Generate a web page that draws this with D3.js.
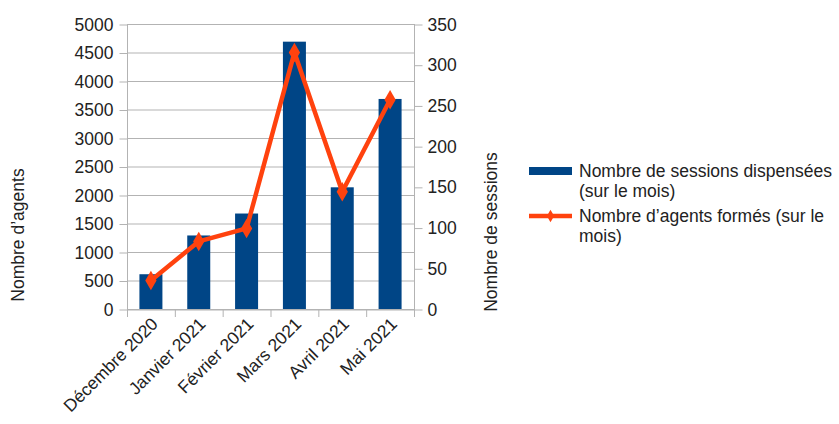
<!DOCTYPE html>
<html>
<head>
<meta charset="utf-8">
<script src="https://cdn.jsdelivr.net/npm/d3@7"></script>
<style>
  body { margin: 0; background: #fff; }
  svg { font-family: "Liberation Sans", Arial, sans-serif; }
</style>
</head>
<body>
<svg width="839" height="424"></svg>
<script>
"use strict";

// data
const months = ["Décembre 2020", "Janvier 2021", "Février 2021", "Mars 2021", "Avril 2021", "Mai 2021"];
const sessions = [610, 1290, 1675, 4690, 2135, 3685];   // bars, left axis
const agents = [35, 83, 99, 315, 144, 257];             // line, right axis
const leftTicks = [0, 500, 1000, 1500, 2000, 2500, 3000, 3500, 4000, 4500, 5000];
const rightTicks = [0, 50, 100, 150, 200, 250, 300, 350];

const svg = d3.select("svg");
const plot = { left: 127, right: 414, top: 24, bottom: 309 };
const blue = "#004586";
const orange = "#ff420e";
const grid = "#b3b3b3";
const textColor = "#222";
const fontSize = 17.5;

const xBand = d3.scaleBand().domain(months).range([plot.left, plot.right]);
const yLeft = d3.scaleLinear().domain([0, 5000]).range([plot.bottom, plot.top]);
const yRight = d3.scaleLinear().domain([0, 350]).range([plot.bottom, plot.top]);

// horizontal gridlines
svg.append("g")
  .selectAll("line")
  .data(leftTicks)
  .enter()
  .append("line")
  .attr("x1", plot.left)
  .attr("x2", plot.right)
  .attr("y1", d => yLeft(d) + 0.5)
  .attr("y2", d => yLeft(d) + 0.5)
  .attr("stroke", grid)
  .attr("stroke-width", 1);

// plot frame sides
svg.append("line").attr("x1", plot.left + 0.5).attr("x2", plot.left + 0.5)
  .attr("y1", plot.top).attr("y2", plot.bottom + 8).attr("stroke", grid);
svg.append("line").attr("x1", plot.right + 0.5).attr("x2", plot.right + 0.5)
  .attr("y1", plot.top).attr("y2", plot.bottom + 8).attr("stroke", grid);

// bars
svg.append("g")
  .selectAll("rect")
  .data(sessions)
  .enter()
  .append("rect")
  .attr("x", (d, i) => xBand(months[i]) + xBand.bandwidth() / 2 - 11.5)
  .attr("width", 23)
  .attr("y", d => yLeft(d))
  .attr("height", d => plot.bottom - yLeft(d))
  .attr("fill", blue);

// left axis
const leftAxis = d3.axisLeft(yLeft).tickValues(leftTicks).tickFormat(d3.format("d")).tickSize(8).tickPadding(6);
const gl = svg.append("g").attr("transform", `translate(${plot.left + 0.5},0.5)`).call(leftAxis);
gl.select(".domain").remove();
gl.selectAll("line").attr("stroke", grid);
gl.selectAll("text").attr("font-size", fontSize).attr("fill", textColor).attr("font-family", "Liberation Sans, Arial, sans-serif");

// right axis
const rightAxis = d3.axisRight(yRight).tickValues(rightTicks).tickFormat(d3.format("d")).tickSize(8).tickPadding(5);
const gr = svg.append("g").attr("transform", `translate(${plot.right + 0.5},0.5)`).call(rightAxis);
gr.select(".domain").remove();
gr.selectAll("line").attr("stroke", grid);
gr.selectAll("text").attr("font-size", fontSize).attr("fill", textColor).attr("font-family", "Liberation Sans, Arial, sans-serif");

// bottom axis line
const bottomAxis = d3.axisBottom(xBand).tickSize(0).tickFormat("");
const gb = svg.append("g").attr("transform", `translate(0,${plot.bottom + 0.5})`).call(bottomAxis);
gb.select(".domain").attr("stroke", grid);
gb.selectAll("line").remove();
// category separator ticks
svg.append("g")
  .selectAll("line")
  .data(months.slice(1))
  .enter()
  .append("line")
  .attr("x1", d => xBand(d) + 0.5)
  .attr("x2", d => xBand(d) + 0.5)
  .attr("y1", plot.bottom)
  .attr("y2", plot.bottom + 8)
  .attr("stroke", grid);

// rotated category labels
svg.append("g")
  .selectAll("text")
  .data(months)
  .enter()
  .append("text")
  .attr("transform", d => `translate(${xBand(d) + xBand.bandwidth() / 2 + 8},${plot.bottom + 16}) rotate(-45)`)
  .attr("text-anchor", "end")
  .attr("font-size", fontSize)
  .attr("fill", textColor)
  .text(d => d);

// line series
const line = d3.line()
  .x((d, i) => xBand(months[i]) + xBand.bandwidth() / 2)
  .y(d => yRight(d));
svg.append("path")
  .datum(agents)
  .attr("d", line)
  .attr("fill", "none")
  .attr("stroke", orange)
  .attr("stroke-width", 4.5)
  .attr("stroke-linejoin", "round");

const diamond = d3.symbol().type(d3.symbolDiamond).size(110);
svg.append("g")
  .selectAll("path")
  .data(agents)
  .enter()
  .append("path")
  .attr("d", diamond)
  .attr("transform", (d, i) => `translate(${xBand(months[i]) + xBand.bandwidth() / 2},${yRight(d)})`)
  .attr("fill", orange);

// axis titles
svg.append("text")
  .attr("transform", "translate(24,235) rotate(-90)")
  .attr("text-anchor", "middle")
  .attr("font-size", fontSize)
  .attr("fill", textColor)
  .text("Nombre d’agents");
svg.append("text")
  .attr("transform", "translate(497,232) rotate(-90)")
  .attr("text-anchor", "middle")
  .attr("font-size", fontSize)
  .attr("fill", textColor)
  .text("Nombre de sessions");

// legend
const legend = svg.append("g");
legend.append("rect").attr("x", 529).attr("y", 167).attr("width", 43).attr("height", 8).attr("fill", blue);
legend.append("text").attr("x", 579).attr("y", 177).attr("font-size", fontSize).attr("fill", textColor)
  .text("Nombre de sessions dispensées");
legend.append("text").attr("x", 579).attr("y", 197).attr("font-size", fontSize).attr("fill", textColor)
  .text("(sur le mois)");
legend.append("line").attr("x1", 529).attr("x2", 572).attr("y1", 216).attr("y2", 216)
  .attr("stroke", orange).attr("stroke-width", 4.5);
legend.append("path").attr("d", d3.symbol().type(d3.symbolDiamond).size(45))
  .attr("transform", "translate(550.5,216)").attr("fill", orange);
legend.append("text").attr("x", 579).attr("y", 222).attr("font-size", fontSize).attr("fill", textColor)
  .text("Nombre d’agents formés (sur le");
legend.append("text").attr("x", 579).attr("y", 242).attr("font-size", fontSize).attr("fill", textColor)
  .text("mois)");
</script>
</body>
</html>
